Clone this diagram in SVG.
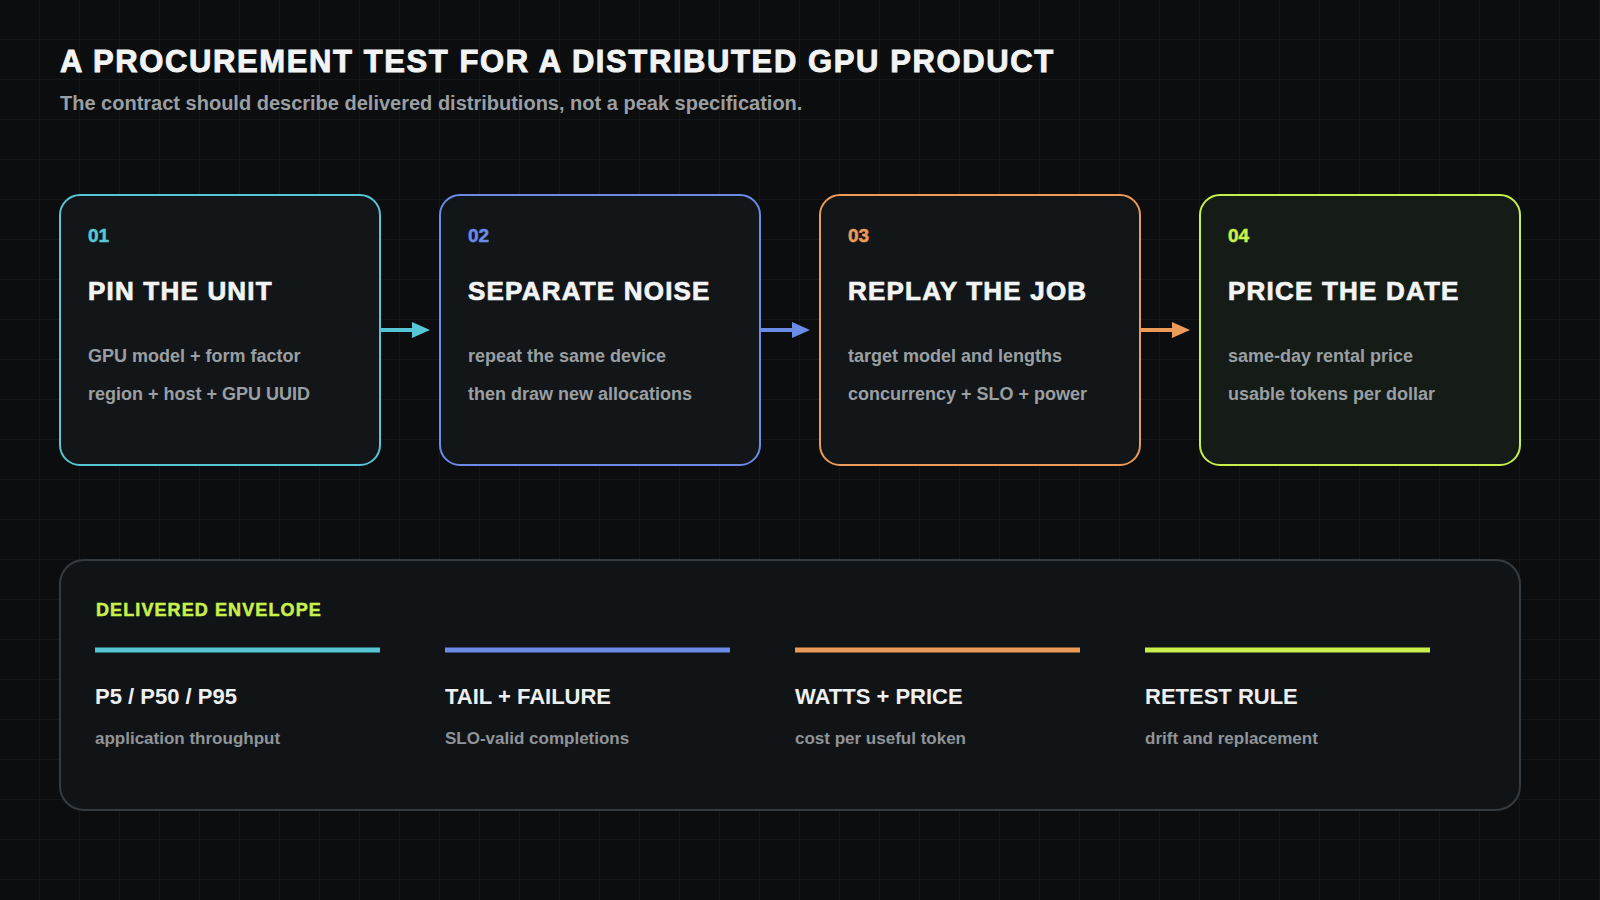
<svg xmlns="http://www.w3.org/2000/svg" width="1600" height="900" viewBox="0 0 1600 900">
  <defs>
    <pattern id="grid" x="0" y="0" width="40" height="40" patternUnits="userSpaceOnUse">
      <path d="M40 0V40M0 40H40" fill="none" stroke="#1b2023" stroke-width="1"/>
    </pattern>
    <marker id="ah-cyan" viewBox="0 0 18 16" refX="0" refY="8" markerWidth="18" markerHeight="16" markerUnits="userSpaceOnUse" orient="auto">
      <path d="M0 0L18 8L0 16Z" fill="#56c6d6"/>
    </marker>
    <marker id="ah-blue" viewBox="0 0 18 16" refX="0" refY="8" markerWidth="18" markerHeight="16" markerUnits="userSpaceOnUse" orient="auto">
      <path d="M0 0L18 8L0 16Z" fill="#6b8be6"/>
    </marker>
    <marker id="ah-orange" viewBox="0 0 18 16" refX="0" refY="8" markerWidth="18" markerHeight="16" markerUnits="userSpaceOnUse" orient="auto">
      <path d="M0 0L18 8L0 16Z" fill="#ec9a58"/>
    </marker>
  </defs>
  <style>
    .sans { font-family: "Liberation Sans", Arial, sans-serif; font-weight: 700; }
    .title { font-size: 31px; fill: #f2f4f4; stroke: #f2f4f4; stroke-width: 0.9px; letter-spacing: 1.6px; }
    .subtitle { font-size: 20px; fill: #9a9fa3; }
    .card { fill: #131619; stroke-width: 2; }
    .num { font-size: 19px; stroke-width: 0.5px; }
    .ctitle { font-size: 26px; fill: #f2f4f4; stroke: #f2f4f4; stroke-width: 0.7px; letter-spacing: 1.2px; }
    .body { font-size: 18px; fill: #9a9fa3; }
    .panel { fill: #111417; stroke: #343c42; stroke-width: 2; }
    .ptitle { font-size: 18px; fill: #c8f04c; stroke: #c8f04c; stroke-width: 0.5px; letter-spacing: 1.1px; }
    .chead { font-size: 22px; fill: #eef0f0; }
    .csub { font-size: 17px; fill: #8f9498; }
    .conn { stroke-width: 4; fill: none; }
  </style>
  <rect width="1600" height="900" fill="#0b0d0f"/>
  <rect width="1600" height="900" fill="url(#grid)"/>

  <g id="header" class="sans">
    <text class="title" x="60" y="72">A PROCUREMENT TEST FOR A DISTRIBUTED GPU PRODUCT</text>
    <text class="subtitle" x="60" y="110">The contract should describe delivered distributions, not a peak specification.</text>
  </g>

  <g id="connectors">
    <line class="conn" x1="381" y1="330" x2="412" y2="330" stroke="#56c6d6" marker-end="url(#ah-cyan)"/>
    <line class="conn" x1="761" y1="330" x2="792" y2="330" stroke="#6b8be6" marker-end="url(#ah-blue)"/>
    <line class="conn" x1="1141" y1="330" x2="1172" y2="330" stroke="#ec9a58" marker-end="url(#ah-orange)"/>
  </g>

  <g id="card1" class="sans">
    <rect class="card" x="60" y="195" width="320" height="270" rx="20" stroke="#56c6d6"/>
    <text class="num" x="88" y="242" fill="#56c6d6" stroke="#56c6d6">01</text>
    <text class="ctitle" x="88" y="300">PIN THE UNIT</text>
    <text class="body" x="88" y="362">GPU model + form factor</text>
    <text class="body" x="88" y="400">region + host + GPU UUID</text>
  </g>
  <g id="card2" class="sans">
    <rect class="card" x="440" y="195" width="320" height="270" rx="20" stroke="#6b8be6"/>
    <text class="num" x="468" y="242" fill="#6b8be6" stroke="#6b8be6">02</text>
    <text class="ctitle" x="468" y="300">SEPARATE NOISE</text>
    <text class="body" x="468" y="362">repeat the same device</text>
    <text class="body" x="468" y="400">then draw new allocations</text>
  </g>
  <g id="card3" class="sans">
    <rect class="card" x="820" y="195" width="320" height="270" rx="20" stroke="#ec9a58"/>
    <text class="num" x="848" y="242" fill="#ec9a58" stroke="#ec9a58">03</text>
    <text class="ctitle" x="848" y="300">REPLAY THE JOB</text>
    <text class="body" x="848" y="362">target model and lengths</text>
    <text class="body" x="848" y="400">concurrency + SLO + power</text>
  </g>
  <g id="card4" class="sans">
    <rect class="card" x="1200" y="195" width="320" height="270" rx="20" stroke="#c8f04c" style="fill:#151c18"/>
    <text class="num" x="1228" y="242" fill="#c8f04c" stroke="#c8f04c">04</text>
    <text class="ctitle" x="1228" y="300">PRICE THE DATE</text>
    <text class="body" x="1228" y="362">same-day rental price</text>
    <text class="body" x="1228" y="400">usable tokens per dollar</text>
  </g>

  <g id="envelope" class="sans">
    <rect class="panel" x="60" y="560" width="1460" height="250" rx="24"/>
    <text class="ptitle" x="96" y="616">DELIVERED ENVELOPE</text>
    <g id="col1">
      <rect x="95" y="647.5" width="285" height="5" fill="#56c6d6"/>
      <text class="chead" x="95" y="704">P5 / P50 / P95</text>
      <text class="csub" x="95" y="744">application throughput</text>
    </g>
    <g id="col2">
      <rect x="445" y="647.5" width="285" height="5" fill="#6b8be6"/>
      <text class="chead" x="445" y="704">TAIL + FAILURE</text>
      <text class="csub" x="445" y="744">SLO-valid completions</text>
    </g>
    <g id="col3">
      <rect x="795" y="647.5" width="285" height="5" fill="#ec9a58"/>
      <text class="chead" x="795" y="704">WATTS + PRICE</text>
      <text class="csub" x="795" y="744">cost per useful token</text>
    </g>
    <g id="col4">
      <rect x="1145" y="647.5" width="285" height="5" fill="#c8f04c"/>
      <text class="chead" x="1145" y="704">RETEST RULE</text>
      <text class="csub" x="1145" y="744">drift and replacement</text>
    </g>
  </g>
</svg>
